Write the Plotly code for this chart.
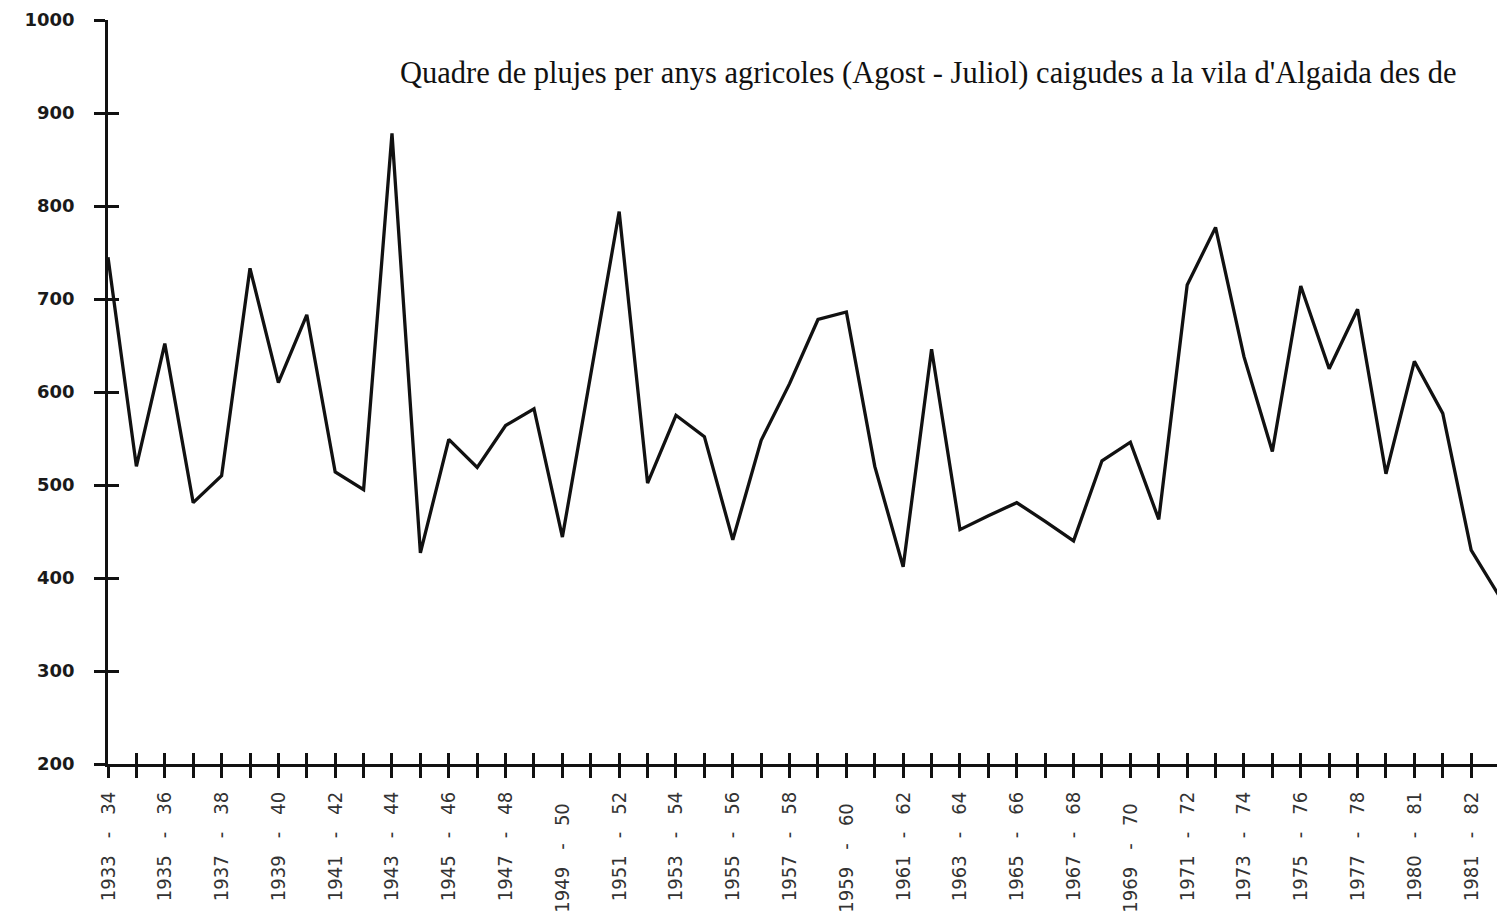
import plotly.graph_objects as go

# Agricultural years (Aug - Jul)
categories = [f"{1933 + i} - {(34 + i) % 100:02d}" for i in range(50)]

rainfall = [745, 520, 652, 481, 510, 733, 610, 683, 514, 495,
            878, 427, 549, 519, 564, 582, 444, 619, 794, 502,
            575, 552, 441, 548, 609, 678, 686, 520, 412, 646,
            452, 467, 481, 461, 440, 526, 546, 463, 715, 777,
            638, 536, 714, 625, 689, 512, 633, 577, 430, 380]

# labels shown on every other tick (as printed)
tick_labels = ["1933 - 34", "1935 - 36", "1937 - 38", "1939 - 40", "1941 - 42",
               "1943 - 44", "1945 - 46", "1947 - 48", "1949 - 50", "1951 - 52",
               "1953 - 54", "1955 - 56", "1957 - 58", "1959 - 60", "1961 - 62",
               "1963 - 64", "1965 - 66", "1967 - 68", "1969 - 70", "1971 - 72",
               "1973 - 74", "1975 - 76", "1977 - 78", "1980 - 81", "1981 - 82"]
shifted_labels = {"1949 - 50", "1959 - 60", "1969 - 70"}

y_ticks = [200, 300, 400, 500, 600, 700, 800, 900, 1000]

NB = "\u00a0"
def fmt(lbl):
    a, b = lbl.split(" - ")
    s = a + NB * 3 + "-" + NB * 3 + b
    if lbl in shifted_labels:
        s += NB * 2
    return s

x_idx = list(range(len(categories)))
tickvals = list(range(len(categories)))
ticktext = []
for i in tickvals:
    if i % 2 == 0 and i // 2 < len(tick_labels):
        ticktext.append(fmt(tick_labels[i // 2]))
    else:
        ticktext.append("")

fig = go.Figure()
fig.add_trace(go.Scatter(x=x_idx, y=rainfall, mode="lines",
                         line=dict(color="#111111", width=3.3),
                         hovertext=categories, showlegend=False))
# dummy trace for overlay axes
fig.add_trace(go.Scatter(x=[None], y=[None], xaxis="x2", yaxis="y2", showlegend=False))

xr = [0, 48.91]
yr = [200, 1000]

fig.update_layout(
    width=1497, height=918,
    margin=dict(l=108, r=0, t=20, b=154),
    paper_bgcolor="white", plot_bgcolor="white",
    xaxis=dict(range=xr, tickmode="array", tickvals=tickvals, ticktext=ticktext,
               tickangle=-90, ticks="outside", ticklen=11, tickwidth=2.5, tickcolor="#111",
               showline=True, linewidth=2.5, linecolor="#111", showgrid=False, zeroline=False,
               ticklabelstandoff=6, automargin=False,
               tickfont=dict(family="DejaVu Sans Condensed, Liberation Sans Narrow, sans-serif",
                             size=20, color="#333")),
    xaxis2=dict(range=xr, overlaying="x", anchor="y", side="bottom",
                tickmode="array", tickvals=tickvals, ticks="inside", ticklen=11,
                tickwidth=2.5, tickcolor="#111", showticklabels=False, showgrid=False,
                zeroline=False, showline=False, automargin=False),
    yaxis=dict(range=yr, tickmode="array", tickvals=y_ticks,
               ticks="outside", ticklen=11, tickwidth=2.5, tickcolor="#111",
               showline=True, linewidth=2.5, linecolor="#111", showgrid=False, zeroline=False,
               ticklabelstandoff=16, automargin=False,
               tickfont=dict(family="DejaVu Sans", size=18, color="#1a1a1a", weight="bold")),
    yaxis2=dict(range=yr, overlaying="y", anchor="x", side="left",
                tickmode="array", tickvals=y_ticks, ticks="inside", ticklen=11,
                tickwidth=2.5, tickcolor="#111", showticklabels=False, showgrid=False,
                zeroline=False, showline=False, automargin=False),
    annotations=[dict(
        text="Quadre de plujes per anys agricoles (Agost - Juliol) caigudes a la vila d'Algaida des de",
        xref="paper", yref="paper", x=(398 - 108) / (1497 - 108), y=(764 - 73) / (764 - 20),
        xanchor="left", yanchor="middle", showarrow=False,
        font=dict(family="Liberation Serif, Times New Roman, serif", size=30.5, color="#111"))],
)

fig.write_html("out.html", config={"displayModeBar": False},
               post_script="document.body.style.margin='0';document.body.style.overflow='hidden';")
